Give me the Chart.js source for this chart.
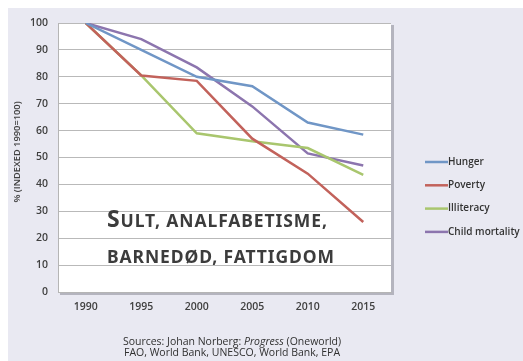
<!DOCTYPE html>
<html>
<head>
<meta charset="utf-8">
<script src="https://cdn.jsdelivr.net/npm/chart.js@4.4.1/dist/chart.umd.min.js"></script>
<style>
  html, body { margin: 0; padding: 0; background: #ffffff; }
  #wrap { width: 523px; height: 361px; }
</style>
</head>
<body>
<div id="wrap"><canvas id="chart" width="523" height="361"></canvas></div>
<script>
// --- data ---
const years = ["1990", "1995", "2000", "2005", "2010", "2015"];
const hunger = [100, 90, 80, 76.5, 63, 58.5];
const poverty = [100, 80.5, 78.5, 57, 44, 26];
const illiteracy = [100, 80.5, 59, 56, 53.5, 43.5];
const childMortality = [100, 94, 83.5, 69, 51.5, 47];
const yTicks = [0, 10, 20, 30, 40, 50, 60, 70, 80, 90, 100];

const seriesNames = ["Hunger", "Poverty", "Illiteracy", "Child mortality"];
const seriesColors = ["#7096c6", "#c2625b", "#a9c66e", "#8c75ae"];
const seriesData = [hunger, poverty, illiteracy, childMortality];

const tickFont = { family: "Open Sans", size: 10.5, weight: "600" };

// page background, plot shadow, legend and overlay text
const decor = {
    id: "decor",
    beforeDraw(chart) {
        const ctx = chart.ctx;
        const a = chart.chartArea;
        ctx.save();
        ctx.fillStyle = "#e9e9f2";
        ctx.fillRect(8, 8, chart.width - 8, chart.height - 8);
        // soft shadow on the right and bottom of the plot box
        ctx.fillStyle = "#b4b4be";
        ctx.fillRect(a.left + 2, a.top + 2, a.right - a.left + 1, a.bottom - a.top + 1);
        ctx.fillStyle = "#ffffff";
        ctx.fillRect(a.left, a.top, a.right - a.left, a.bottom - a.top);
        ctx.restore();
    },
    afterDraw(chart) {
        const ctx = chart.ctx;
        ctx.save();

        // y axis title
        ctx.translate(17, 152);
        ctx.rotate(-Math.PI / 2);
        ctx.fillStyle = "#404040";
        ctx.font = "600 9.3px 'Open Sans'";
        ctx.textAlign = "center";
        ctx.textBaseline = "middle";
        ctx.fillText("% (INDEXED 1990=100)", 0, 0);
        ctx.setTransform(1, 0, 0, 1, 0, 0);

        // legend
        ctx.font = "600 10px 'Open Sans'";
        ctx.textAlign = "left";
        ctx.textBaseline = "middle";
        chart.data.datasets.forEach((ds, i) => {
            const y = 162 + i * 23.3;
            ctx.strokeStyle = ds.borderColor;
            ctx.lineWidth = 2.5;
            ctx.beginPath();
            ctx.moveTo(425, y);
            ctx.lineTo(448, y);
            ctx.stroke();
            ctx.fillStyle = "#333333";
            ctx.fillText(ds.label, 448, y);
        });

        // overlay title in small caps
        ctx.fillStyle = "#3c3c3c";
        ctx.textBaseline = "alphabetic";
        ctx.letterSpacing = "0.9px";
        let x = 107;
        ctx.font = "bold 23px 'Noto Sans'";
        ctx.fillText("S", x, 227);
        x += ctx.measureText("S").width;
        ctx.font = "bold 17.5px 'Noto Sans'";
        ctx.fillText("ULT, ANALFABETISME,", x, 227);
        ctx.fillText("BARNEDØD, FATTIGDOM", 107, 263);
        ctx.letterSpacing = "0px";

        // sources
        ctx.fillStyle = "#303030";
        ctx.textBaseline = "middle";
        const pre = "Sources: Johan Norberg: ";
        const it = "Progress";
        const post = " (Oneworld)";
        const f = "10.5px 'Open Sans'";
        ctx.font = f;
        const w1 = ctx.measureText(pre).width;
        const w3 = ctx.measureText(post).width;
        ctx.font = "italic " + f;
        const w2 = ctx.measureText(it).width;
        const sx = 232 - (w1 + w2 + w3) / 2;
        ctx.font = f;
        ctx.fillText(pre, sx, 342);
        ctx.font = "italic " + f;
        ctx.fillText(it, sx + w1, 342);
        ctx.font = f;
        ctx.fillText(post, sx + w1 + w2, 342);
        ctx.textAlign = "center";
        ctx.fillText("FAO, World Bank, UNESCO, World Bank, EPA", 232, 353);

        ctx.restore();
    }
};

new Chart(document.getElementById("chart"), {
    type: "line",
    data: {
        labels: years,
        datasets: seriesNames.map((name, i) => ({
            label: name,
            data: seriesData[i],
            borderColor: seriesColors[i],
            backgroundColor: seriesColors[i],
            borderWidth: 2.5,
            pointRadius: 0,
            tension: 0,
            fill: false
        }))
    },
    options: {
        responsive: false,
        animation: false,
        layout: { padding: { left: 0, top: 23, right: 132, bottom: 0 } },
        plugins: {
            legend: { display: false },
            tooltip: { enabled: false }
        },
        scales: {
            x: {
                offset: true,
                grid: { display: false, drawTicks: false },
                border: { color: "#b5b5b5" },
                ticks: { color: "#404040", font: tickFont, padding: 9, maxRotation: 0 },
                afterFit(scale) { scale.height = 69; }
            },
            y: {
                min: 0,
                max: 100,
                afterBuildTicks(scale) { scale.ticks = yTicks.map(v => ({ value: v })); },
                grid: { color: "#b9b9b9", lineWidth: 1, drawTicks: false },
                border: { color: "#b5b5b5" },
                ticks: { color: "#404040", font: tickFont, padding: 10 },
                afterFit(scale) { scale.width = 58; }
            }
        }
    },
    plugins: [decor]
});
</script>
</body>
</html>
